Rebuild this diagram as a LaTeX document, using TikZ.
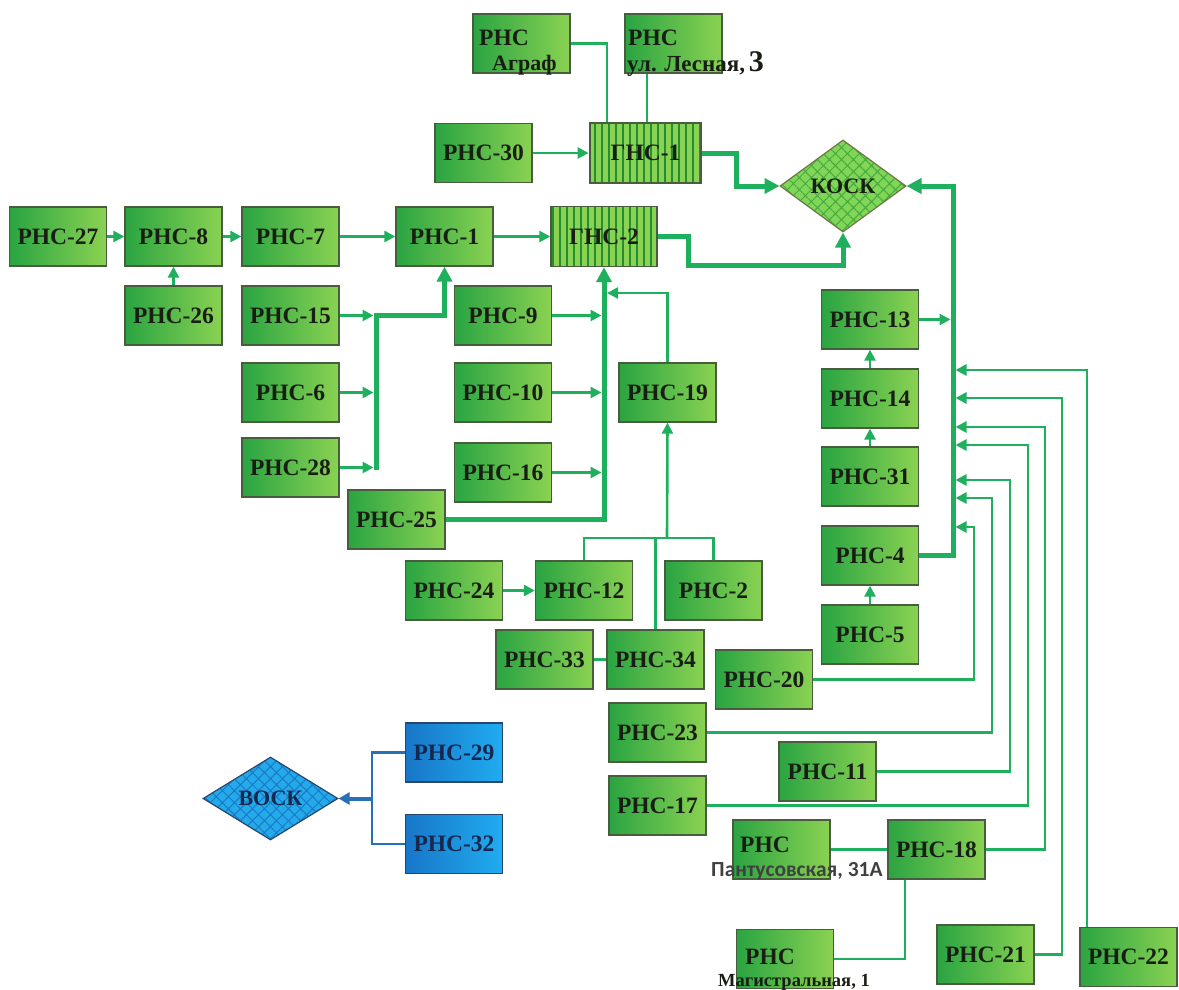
\documentclass[tikz,border=0pt]{standalone}
\usepackage{fontspec}
\setmainfont{Liberation Serif}
\newfontfamily\rser{Liberation Serif}
\newfontfamily\calib{Carlito}
\usetikzlibrary{arrows.meta,shapes.geometric,patterns,patterns.meta}
\definecolor{gl}{RGB}{42,164,66}
\definecolor{gr}{RGB}{138,210,82}
\definecolor{bd}{RGB}{72,92,62}
\definecolor{lc}{RGB}{30,176,92}
\definecolor{gst}{RGB}{38,142,50}
\definecolor{bl1}{RGB}{24,118,200}
\definecolor{bl2}{RGB}{32,172,240}
\definecolor{bbd}{RGB}{40,70,110}
\definecolor{blc}{RGB}{40,112,182}
\definecolor{kf}{RGB}{128,214,88}
\definecolor{kp}{RGB}{72,168,56}
\definecolor{kb}{RGB}{110,120,70}
\definecolor{vf}{RGB}{36,170,232}
\definecolor{vp}{RGB}{24,122,200}
\definecolor{vt}{RGB}{20,40,80}
\definecolor{tx}{RGB}{25,30,20}
\begin{document}
\begin{tikzpicture}[x=1pt,y=-1pt,
  box/.style={draw=bd, line width=1.3pt, left color=gl, right color=gr,
    minimum width=97pt, minimum height=59pt, inner sep=0pt, text=tx,
    font=\rser\bfseries\fontsize{23.5}{26}\selectfont},
  bbox/.style={box, draw=bbd, left color=bl1, right color=bl2},
  gns/.style={draw=bd, line width=1.3pt, preaction={fill=gr},
    pattern={Lines[angle=90,distance=7pt,line width=2.8pt]}, pattern color=gst,
    minimum height=60pt, inner sep=0pt, text=tx,
    font=\rser\bfseries\fontsize{23.5}{26}\selectfont},
  dia/.style={diamond, aspect=1.4, inner sep=0pt, line width=1.2pt, text=tx,
    font=\rser\bfseries\fontsize{22}{26}\selectfont},
  txt/.style={inner sep=0pt, text=tx, font=\rser\bfseries\fontsize{23.5}{26}\selectfont},
  ln/.style={draw=lc, line width=2.6pt},
  arr/.style={ln, -{Triangle[length=11pt,width=11pt]}},
  thk/.style={draw=lc, line width=5pt, -{Triangle[length=15pt,width=15pt]}},
  bln/.style={draw=blc, line width=2.6pt},
  barr/.style={draw=blc, line width=4pt, -{Triangle[length=11pt,width=12pt]}},
]
\fill[white] (0,0) rectangle (1179,989);
\useasboundingbox (0,0) rectangle (1179,989);

% boxes
\node[box] (agraf) at (521.5,43.5) {};
\node[box] (lesn) at (673.5,43.5) {};
\node[box] (r30) at (483.5,153) {РНС-30};
\node[gns, minimum width=111pt] (g1) at (645.5,153) {ГНС-1};
\node[dia, minimum width=126pt, minimum height=92pt, draw=kb,
  preaction={fill=kf}, pattern={Hatch[angle=45,distance=8.5pt,line width=1pt]},
  pattern color=kp] (kosk) at (843,186) {КОСК};
\node[box] (r27) at (58,236.5) {РНС-27};
\node[box] (r8) at (173.5,236.5) {РНС-8};
\node[box] (r7) at (290.5,236.5) {РНС-7};
\node[box] (r1) at (444.5,236.5) {РНС-1};
\node[gns, minimum width=106pt] (g2) at (604,236.5) {ГНС-2};
\node[box] (r26) at (173.5,315.5) {РНС-26};
\node[box] (r15) at (290.5,315.5) {РНС-15};
\node[box] (r9) at (503,315.5) {РНС-9};
\node[box] (r6) at (290.5,392.5) {РНС-6};
\node[box] (r10) at (503,392.5) {РНС-10};
\node[box] (r19) at (667.5,392.5) {РНС-19};
\node[box] (r28) at (290.5,467.5) {РНС-28};
\node[box] (r16) at (503,472.5) {РНС-16};
\node[box] (r25) at (396.5,519.5) {РНС-25};
\node[box] (r13) at (870,319.5) {РНС-13};
\node[box] (r14) at (870,398.5) {РНС-14};
\node[box] (r31) at (870,476.5) {РНС-31};
\node[box] (r4) at (870,555.5) {РНС-4};
\node[box] (r5) at (870,634.5) {РНС-5};
\node[box] (r24) at (454,590.5) {РНС-24};
\node[box] (r12) at (584,590.5) {РНС-12};
\node[box] (r2) at (713.5,590.5) {РНС-2};
\node[box] (r33) at (544.5,659.5) {РНС-33};
\node[box] (r34) at (655.5,659.5) {РНС-34};
\node[box] (r20) at (764,679.5) {РНС-20};
\node[box] (r23) at (657.5,732.5) {РНС-23};
\node[box] (r11) at (827.5,771.5) {РНС-11};
\node[box] (r17) at (657.5,805.5) {РНС-17};
\node[bbox, text=vt] (r29) at (454,752.5) {РНС-29};
\node[bbox, text=vt] (r32) at (454,844) {РНС-32};
\node[dia, minimum width=135pt, minimum height=83pt, draw=bbd, text=vt,
  preaction={fill=vf}, pattern={Hatch[angle=45,distance=8.5pt,line width=1pt]},
  pattern color=vp] (vosk) at (270.5,798.5) {ВОСК};
\node[box] (pant) at (781.5,849.5) {};
\node[box] (r18) at (936.5,849.5) {РНС-18};
\node[box] (magi) at (785,959) {};
\node[box] (r21) at (985.5,954.5) {РНС-21};
\node[box] (r22) at (1128.5,957) {РНС-22};

% bus coordinates
\coordinate (b1) at (376,470);
\coordinate (t) at (667,538);
\coordinate (mb) at (953,186);
\coordinate (vb) at (372,798.5);

% top connectors
\draw[ln] (agraf.east) -| ([xshift=-38.5pt]g1.north);
\draw[ln] ([xshift=-26.5pt]lesn.south) -- ([xshift=-26.5pt]lesn.south |- g1.north);
\draw[arr] (r30.east) -- (g1.west);
\draw[thk] (g1.east) -- ++(34,0) |- (kosk.west);
\draw[thk] (g2.east) -- ++(31,0) -- ++(0,28.5) -| (kosk.south);

% main row
\draw[arr] (r27.east) -- (r8.west);
\draw[arr] (r8.east) -- (r7.west);
\draw[arr] (r7.east) -- (r1.west);
\draw[arr] (r1.east) -- (g2.west);
\draw[arr] (r26.north) -- (r8.south);

% left bus
\draw[thk] (b1) |- (r1.south |- r15.east) -- (r1.south);
\foreach \s in {r15,r6,r28}
  \draw[arr, shorten >=2.5pt] (\s.east) -- (\s.east -| b1);

% middle bus
\draw[thk] (r25.east) -| (g2.south);
\foreach \s in {r9,r10,r16}
  \draw[arr, shorten >=2.5pt] (\s.east) -- (\s.east -| g2.south);
\draw[arr, shorten >=3pt] (r19.north) |- (g2.south |- 0,293);

% tree to RNS-19
\draw[ln] (r12.north) |- (r2.north |- t) -- (r2.north);
\draw[ln] (r34.north) -- (r34.north |- t);
\draw[arr] (t) -- (r19.south);
\draw[arr] (r24.east) -- (r12.west);
\draw[ln] (r33.east) -- (r34.west);

% right column
\draw[arr] (r14.north) -- (r13.south);
\draw[arr] (r31.north) -- (r14.south);
\draw[arr] (r5.north) -- (r4.south);
\draw[thk] (r4.east) -- (r4.east -| mb) |- (kosk.east);
\draw[arr, shorten >=2.5pt] (r13.east) -- (r13.east -| mb);
\foreach \s/\vx/\ty in {r20/974/527, r23/992/498, r11/1010/480, r17/1028/445, r18/1045/427, r21/1062/398}
  \draw[arr, shorten >=2.5pt] (\s.east) -| (\vx,\ty) -- (mb |- 0,\ty);
\draw[arr, shorten >=2.5pt] ([xshift=-41.5pt]r22.north) |- (mb |- 0,370);

% bottom
\draw[ln] (pant.east) -- (r18.west);
\draw[ln] ([xshift=-31.5pt]r18.south) |- (magi.east);

% VOSK
\draw[bln] (r29.west) -| (vb |- r32.west) -- (r32.west);
\draw[barr] (vb) -- (vosk.east);

% labels of the named stations
\node[txt, anchor=base west] (agrafA) at (479,45) {РНС};
\node[txt, anchor=base west, font=\rser\bfseries\fontsize{22}{24}\selectfont] (agrafB) at (492,70) {Аграф};
\node[txt, anchor=base west] (lesnA) at (628,45) {РНС};
\node[txt, anchor=base west, font=\rser\bfseries\fontsize{23}{24}\selectfont] (lesnB) at (627,71)
  {ул. Лесная,\,{\fontsize{30}{30}\selectfont 3}};
\node[txt, anchor=base west] (pantA) at (740,852) {РНС};
\node[inner sep=0pt, anchor=base west, text=black!75,
  font=\calib\bfseries\fontsize{21.5}{22}\selectfont] (pantB) at (711,876) {Пантусовская, 31А};
\node[txt, anchor=base west] (magiA) at (745,964) {РНС};
\node[txt, anchor=base west, font=\rser\bfseries\fontsize{18.5}{22}\selectfont] (magiB) at (718,986) {Магистральная, 1};
\end{tikzpicture}
\end{document}
